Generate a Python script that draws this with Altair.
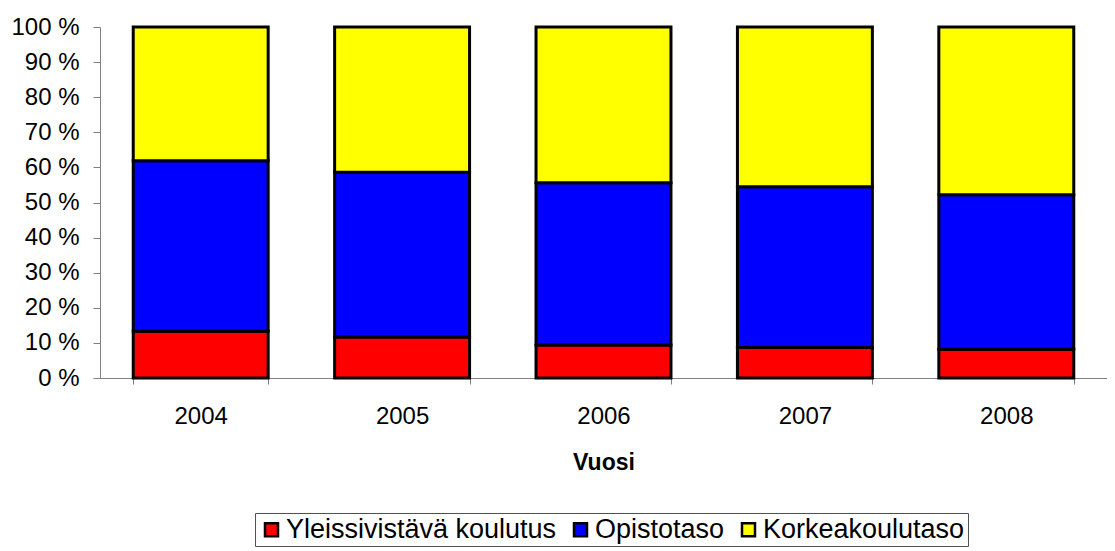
import altair as alt
import pandas as pd

years = ["2004", "2005", "2006", "2007", "2008"]
series = ["Yleissivistävä koulutus", "Opistotaso", "Korkeakoulutaso"]
colors = ["#FF0000", "#0000FF", "#FFFF00"]
yleis = [13.3, 11.7, 9.4, 8.7, 8.2]
opisto = [48.6, 46.9, 46.2, 45.8, 44.0]
korkea = [38.1, 41.4, 44.4, 45.5, 47.8]

rows = []
for i, y in enumerate(years):
    for k, (s, vals) in enumerate(zip(series, [yleis, opisto, korkea])):
        rows.append({"Vuosi": y, "Sarja": s, "Arvo": vals[i], "idx": k})
df = pd.DataFrame(rows)

FONT = "Liberation Sans"

chart = alt.Chart(df).mark_bar(stroke="black", strokeWidth=3).encode(
    x=alt.X("Vuosi:N",
            scale=alt.Scale(paddingInner=0.33, paddingOuter=0.165),
            axis=alt.Axis(title="Vuosi", labelAngle=0, labelFontSize=24,
                          labelPadding=20, tickSize=6, tickBand="extent",
                          titleFontSize=23, titleFontWeight="bold",
                          titlePadding=23)),
    y=alt.Y("Arvo:Q", stack="normalize",
            scale=alt.Scale(domain=[0, 1]),
            axis=alt.Axis(title=None, values=[i / 10 for i in range(11)],
                          labelExpr="round(datum.value*100) + ' %'",
                          labelFontSize=24, labelPadding=14, tickSize=7,
                          grid=False)),
    color=alt.Color("Sarja:N",
                    scale=alt.Scale(domain=series, range=colors),
                    sort=series,
                    legend=alt.Legend(title=None, orient="none", legendX=155, legendY=486,
                                      direction="horizontal", symbolType="square",
                                      symbolSize=169, symbolStrokeColor="black",
                                      symbolStrokeWidth=2.5, labelFontSize=27,
                                      labelOffset=1, columnPadding=10, labelLimit=500,
                                      strokeColor="#505050", padding=3)),
    order=alt.Order("idx:Q", sort="ascending"),
).properties(
    width=1007, height=351,
    autosize=alt.AutoSizeParams(type="none"),
    padding={"left": 92, "top": 19, "right": 0, "bottom": 172},
).configure_view(stroke=None).configure_axis(
    domainColor="#808080", tickColor="#808080", labelColor="black",
    titleColor="black", labelFont=FONT, titleFont=FONT, grid=False,
).configure_legend(labelFont=FONT, labelColor="black")

chart.save("out.html", embed_options={"renderer": "svg", "actions": False})
